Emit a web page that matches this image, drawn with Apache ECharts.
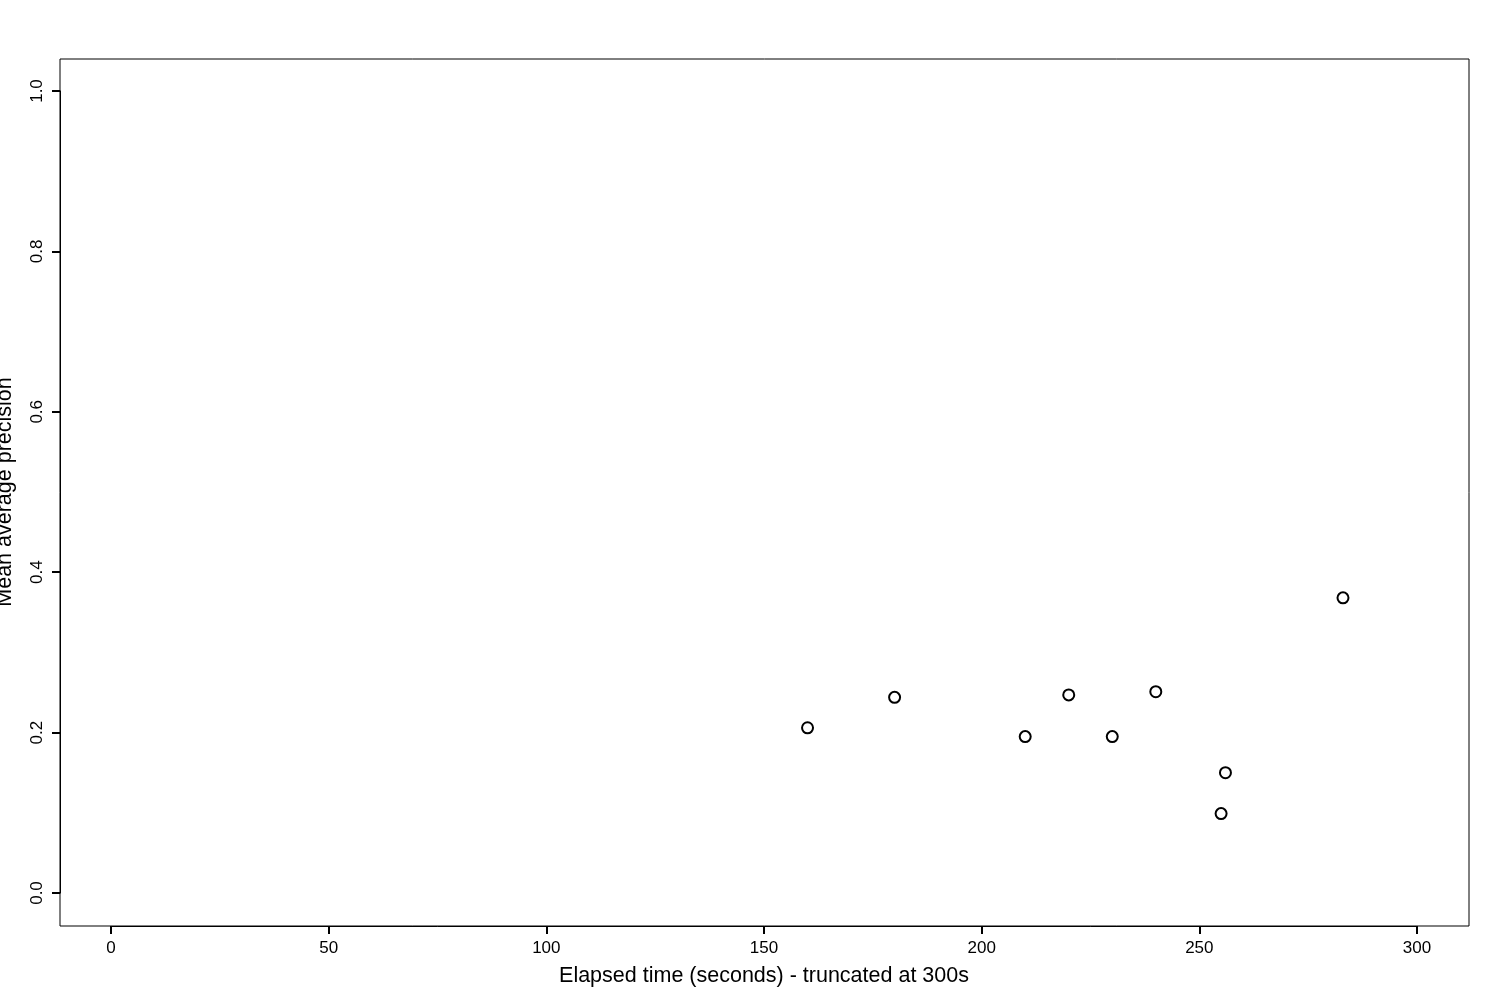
<!DOCTYPE html>
<html>
<head>
<meta charset="utf-8">
<script src="https://cdn.jsdelivr.net/npm/echarts@6/dist/echarts.min.js"></script>
<style>html,body{margin:0;padding:0;background:#fff;}#c{width:1500px;height:1000px;}</style>
</head>
<body>
<div id="c"></div>
<script>
const elapsedSeconds = [160, 180, 210, 220, 230, 240, 256, 255, 283];
const meanAvgPrecision = [0.206, 0.244, 0.195, 0.247, 0.195, 0.251, 0.150, 0.099, 0.368];
const xTicks = [0, 50, 100, 150, 200, 250, 300];
const yTickLabels = ['0.0', '0.2', '0.4', '0.6', '0.8', '1.0'];

const font = 'Liberation Sans, Arial, sans-serif';
const chart = echarts.init(document.getElementById('c'), null, {renderer: 'canvas'});
chart.setOption({
  animation: false,
  backgroundColor: '#ffffff',
  grid: [
    {left: 111, right: 83, top: 91, bottom: 107, outerBoundsMode: 'none', show: false},
    {left: 60, right: 31, top: 59, bottom: 74, outerBoundsMode: 'none',
      show: true, borderColor: '#000', borderWidth: 1, backgroundColor: 'transparent'}
  ],
  xAxis: [{
    gridIndex: 0, type: 'value', min: xTicks[0], max: xTicks[xTicks.length - 1], interval: 50,
    offset: 33,
    name: 'Elapsed time (seconds) - truncated at 300s',
    nameLocation: 'middle', nameGap: 39,
    nameTextStyle: {fontFamily: font, fontSize: 21.5, color: '#000'},
    axisLine: {show: true, onZero: false, lineStyle: {color: '#000', width: 1}},
    axisTick: {show: true, length: 8, lineStyle: {color: '#000', width: 2}},
    axisLabel: {show: true, margin: 14, fontFamily: font, fontSize: 17, color: '#000', showMinLabel: true, showMaxLabel: true},
    splitLine: {show: false}
  }, {
    gridIndex: 1, type: 'value', show: false
  }],
  yAxis: [{
    gridIndex: 0, type: 'value', min: 0, max: 1, interval: 0.2,
    offset: 51,
    name: 'Mean average precision',
    nameLocation: 'middle', nameGap: 44, nameRotate: 90,
    nameTextStyle: {fontFamily: font, fontSize: 21.5, color: '#000'},
    axisLine: {show: true, onZero: false, lineStyle: {color: '#000', width: 1}},
    axisTick: {show: true, length: 8, lineStyle: {color: '#000', width: 2}},
    axisLabel: {show: true, rotate: 90, margin: 14, fontFamily: font, fontSize: 17, color: '#000', showMinLabel: true, showMaxLabel: true,
      formatter: function (v) { return yTickLabels[Math.round(v / 0.2)]; }},
    splitLine: {show: false}
  }, {
    gridIndex: 1, type: 'value', show: false
  }],
  series: [{
    type: 'scatter', xAxisIndex: 0, yAxisIndex: 0, clip: false,
    data: elapsedSeconds.map((x, i) => [x, meanAvgPrecision[i]]),
    symbol: 'circle', symbolSize: 11,
    itemStyle: {color: '#fff', borderColor: '#000', borderWidth: 2, opacity: 1}
  }]
});
</script>
</body>
</html>
